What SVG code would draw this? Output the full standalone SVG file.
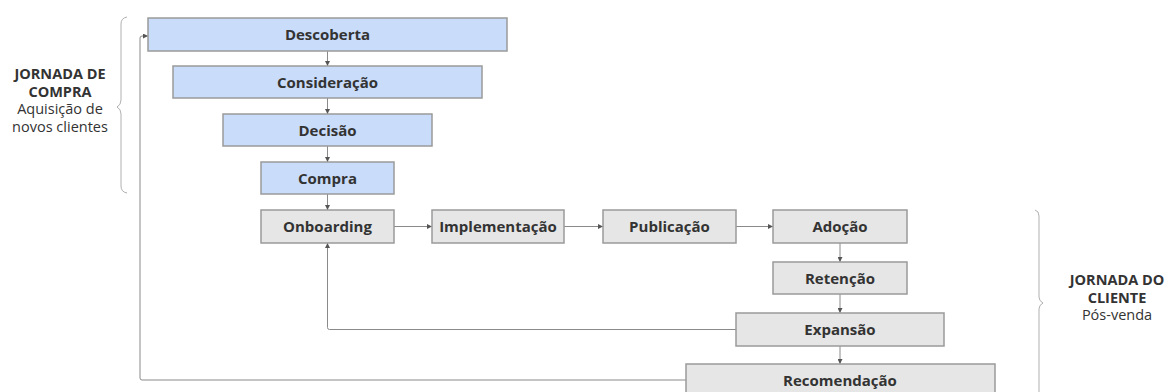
<svg xmlns="http://www.w3.org/2000/svg" width="1170" height="392" viewBox="0 0 1170 392">
<style>
.b{fill:#c9dcfa;stroke:#9a9a9a;stroke-width:1.5}
.g{fill:#e6e6e6;stroke:#9a9a9a;stroke-width:1.5}
.t{font-family:"Open Sans",sans-serif;font-size:15px;font-weight:bold;fill:#333;text-anchor:middle}
.c{fill:none;stroke:#8a8a8a;stroke-width:1}
.br{fill:none;stroke:#b0b0b0;stroke-width:1}
.lb{font-family:"Open Sans",sans-serif;font-size:14.5px;fill:#333;text-anchor:middle}
</style>
<defs>
<marker id="a" viewBox="0 0 6 6" refX="6" refY="3" markerWidth="5" markerHeight="5" orient="auto">
<path d="M0,0 L6,3 L0,6 z" fill="#555"/>
</marker>
</defs>
<rect width="1170" height="392" fill="#fff"/>
<g id="connectors">
<line class="c" x1="327.5" y1="51" x2="327.5" y2="66" marker-end="url(#a)"/>
<line class="c" x1="327.5" y1="98" x2="327.5" y2="114" marker-end="url(#a)"/>
<line class="c" x1="327.5" y1="146" x2="327.5" y2="162" marker-end="url(#a)"/>
<line class="c" x1="327.5" y1="194" x2="327.5" y2="210" marker-end="url(#a)"/>
<line class="c" x1="394" y1="226.5" x2="432" y2="226.5" marker-end="url(#a)"/>
<line class="c" x1="564" y1="226.5" x2="603" y2="226.5" marker-end="url(#a)"/>
<line class="c" x1="736" y1="226.5" x2="773" y2="226.5" marker-end="url(#a)"/>
<line class="c" x1="840" y1="243" x2="840" y2="262" marker-end="url(#a)"/>
<line class="c" x1="840" y1="294" x2="840" y2="313" marker-end="url(#a)"/>
<line class="c" x1="840" y1="346" x2="840" y2="364" marker-end="url(#a)"/>
<path class="c" d="M736,329.5 H329.5 Q327.5,329.5 327.5,327.5 V243" marker-end="url(#a)"/>
<path class="c" d="M686,380 H142 Q140,380 140,378 V38 Q140,36 142,36 H148" marker-end="url(#a)"/>
</g>
<g id="brace-compra">
<path class="br" d="M127,17 Q121,18 121,24 V100 Q121,105 117,107 Q121,109 121,114 V186 Q121,192 127,193"/>
<text class="lb" x="60" y="79" font-weight="bold">JORNADA DE</text>
<text class="lb" x="60" y="96.5" font-weight="bold">COMPRA</text>
<text class="lb" x="60" y="114">Aquisição de</text>
<text class="lb" x="60" y="131.5">novos clientes</text>
</g>
<g id="brace-cliente">
<path class="br" d="M1035,210 Q1039,211 1039,216 V297 Q1039,301 1043,303 Q1039,305 1039,309 V392"/>
<text class="lb" x="1117" y="285" font-weight="bold">JORNADA DO</text>
<text class="lb" x="1117" y="302.5" font-weight="bold">CLIENTE</text>
<text class="lb" x="1117" y="320">Pós-venda</text>
</g>
<g id="n-descoberta"><rect class="b" x="148" y="18" width="359" height="33"/><text class="t" x="327.5" y="40">Descoberta</text></g>
<g id="n-consideracao"><rect class="b" x="173" y="66" width="309" height="32"/><text class="t" x="327.5" y="87.5">Consideração</text></g>
<g id="n-decisao"><rect class="b" x="223" y="114" width="209" height="32"/><text class="t" x="327.5" y="135.5">Decisão</text></g>
<g id="n-compra"><rect class="b" x="261" y="162" width="133" height="32"/><text class="t" x="327.5" y="183.5">Compra</text></g>
<g id="n-onboarding"><rect class="g" x="261" y="210" width="133" height="33"/><text class="t" x="327.5" y="232">Onboarding</text></g>
<g id="n-implementacao"><rect class="g" x="432" y="210" width="132" height="33"/><text class="t" x="498" y="232">Implementação</text></g>
<g id="n-publicacao"><rect class="g" x="603" y="210" width="133" height="33"/><text class="t" x="669.5" y="232">Publicação</text></g>
<g id="n-adocao"><rect class="g" x="773" y="210" width="134" height="33"/><text class="t" x="840" y="232">Adoção</text></g>
<g id="n-retencao"><rect class="g" x="773" y="262" width="134" height="32"/><text class="t" x="840" y="283.5">Retenção</text></g>
<g id="n-expansao"><rect class="g" x="736" y="313" width="208" height="33"/><text class="t" x="840" y="335">Expansão</text></g>
<g id="n-recomendacao"><rect class="g" x="686" y="364" width="309" height="34"/><text class="t" x="840" y="386">Recomendação</text></g>
</svg>
